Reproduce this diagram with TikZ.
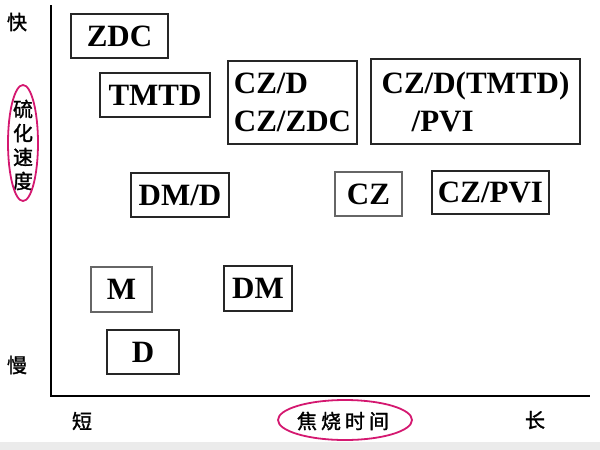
\documentclass[tikz,border=0pt]{standalone}
\usepackage{fontspec}
\usepackage{xcolor}
\usepackage{tikz}
\usetikzlibrary{positioning,calc}
\setmainfont{Liberation Serif}
\newfontfamily\cjk[FakeBold=1.5]{Noto Sans CJK SC}
\definecolor{ovalpink}{RGB}{212,24,112}

\begin{document}
\begin{tikzpicture}[x=1pt, y=-1pt,
    every node/.style={inner sep=0pt},
    accbox/.style={draw=black!85, line width=1.3pt, minimum height=44pt,
        font=\bfseries\fontsize{31}{38}\selectfont},
    axislabel/.style={font=\cjk\fontsize{20}{24}\selectfont},
    oval/.style={draw=ovalpink, line width=1.8pt}]
        \useasboundingbox (0,0) rectangle (600,450);
        \fill[black!8] (0,442) rectangle (600,450);

        % axes
        \coordinate (ytop) at (51,5);
        \coordinate (xend) at (590,396);
        \draw[line width=2.4pt] (ytop) |- (xend);

        % vertical axis: cure speed
        \node[axislabel] (fast) at (17,22) {快};
        \node[axislabel] (slow) at (17,365) {慢};
        \node[axislabel, align=center] (speed) at (23,145) {硫\\化\\速\\度};
        \draw[oval] (23,143) ellipse (15 and 58);

        % horizontal axis: scorch time
        \node[axislabel] (short) at (82,421) {短};
        \node[axislabel] (long) at (535,420) {长};
        \node[axislabel] (scorch) at (343,421) {焦\hspace{4pt}烧\hspace{4pt}时\hspace{4pt}间};
        \draw[oval] (345,420) ellipse (67 and 20);

        % accelerator systems
        \node[accbox, minimum width=97pt] (zdc) at (119.5,36) {ZDC};
        \node[accbox, minimum width=110pt] (tmtd) at (155,95) {TMTD};
        \node[accbox, minimum width=129pt, minimum height=83pt, align=left] (czd) at (292.5,102.5) {CZ/D\\CZ/ZDC};
        \node[accbox, minimum width=209pt, minimum height=85pt, align=left] (czpvi2) at (475.5,101.5) {CZ/D(TMTD)\\\hspace*{30pt}/PVI};
        \node[accbox, minimum width=98pt] (dmd) at (180,195) {DM/D};
        \node[accbox, draw=black!60, minimum width=67pt] (cz) at (368.5,194) {CZ};
        \node[accbox, minimum width=117pt, minimum height=43pt] (czpvi) at (490.5,192.5) {CZ/PVI};
        \node[accbox, draw=black!60, minimum width=61pt, minimum height=45pt] (m) at (121.5,289.5) {M};
        \node[accbox, minimum width=68pt, minimum height=45pt] (dm) at (258,288.5) {DM};
        \node[accbox, minimum width=72pt] (d) at (143,352) {D};
    \end{tikzpicture}
\end{document}
